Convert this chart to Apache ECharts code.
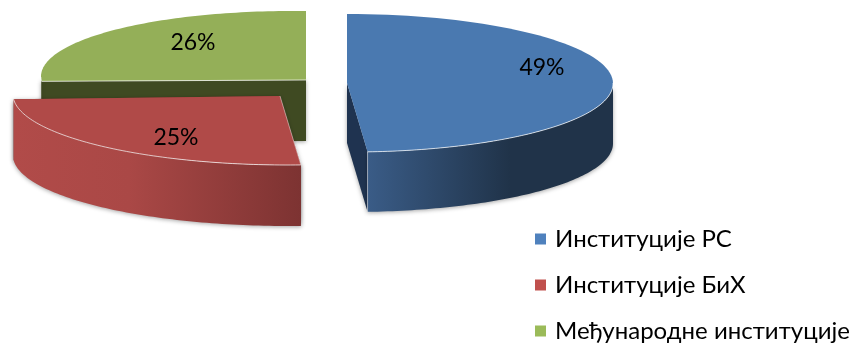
<!DOCTYPE html>
<html><head><meta charset="utf-8">
<style>html,body{margin:0;padding:0;background:#fff}#c{width:860px;height:343px}</style>
<script src="https://cdn.jsdelivr.net/npm/echarts@6/dist/echarts.min.js"></script>
</head><body><div id="c"></div>
<script>
const categories = ['Институције РС', 'Институције БиХ', 'Међународне институције'];
const values = [49, 25, 26];
const labels = ['49%', '25%', '26%'];

// Drawing geometry of each exploded wedge (pixels)
const geometry = [
  {cx:347, cy:83, rx:264, ry:69, tilt:0, depth:60, lx:542, ly:68,  top:'#4a79b0', wall:['#3a5c87','#223650','#203349','#203349'], inner:'#1f3350'},
  {cx:280, cy:96, rx:269, ry:69, tilt:1, depth:61, lx:176, ly:138, top:'#b04a48', wall:['#b14b49','#aa4846','#7d3332','#7d3332'], inner:'#7d3332'},
  {cx:306, cy:80, rx:267, ry:69, tilt:3, depth:61, lx:193, ly:43,  top:'#94af58', wall:['#3f4a22','#3f4a22','#3f4a22','#3f4a22'], inner:'#3f4a22'}
];
const total = values.reduce((a, b) => a + b, 0);
const starts = values.map((_, i) => values.slice(0, i).reduce((a, b) => a + b, 0) * 360 / total);

function pt(g, deg, dz) {
  const t = deg * Math.PI / 180;
  return [g.cx + g.rx * Math.sin(t) + 2 * (1 - Math.cos(t)), g.cy - g.ry * Math.cos(t) + g.tilt * Math.sin(t) + (dz || 0)];
}
function arc(g, a, b, dz) {
  const out = [], n = 80;
  for (let k = 0; k <= n; k++) out.push(pt(g, a + (b - a) * k / n, dz));
  return out;
}
function wedgeRender(i) {
  return function (params, api) {
    const g = geometry[i], v = api.value(0);
    const a0 = starts[i], a1 = a0 + v * 360 / total;
    const apex = [g.cx, g.cy], d = g.depth;
    const children = [];
    const shadow = {shadowBlur: 4, shadowColor: 'rgba(0,0,0,0.35)', shadowOffsetY: 1};
    const radial = (deg) => {
      const p = pt(g, deg);
      return [apex, p, [p[0], p[1] + d], [apex[0], apex[1] + d]];
    };
    children.push({type: 'polygon', shape: {points: radial(a0)}, style: Object.assign({fill: g.inner}, shadow)});
    children.push({type: 'polygon', shape: {points: radial(a1)}, style: Object.assign({fill: g.inner}, shadow)});
    // outer wall: only the part of the rim on the viewer's side (90° to 270°)
    const w0 = Math.max(a0, 90), w1 = Math.min(a1, 270);
    if (w1 > w0) {
      const top = arc(g, w0, w1), bot = arc(g, w0, w1, d).reverse();
      const grad = (i === 0)
        ? new echarts.graphic.LinearGradient(0, 0, 1, 0, [{offset: 0, color: g.wall[0]}, {offset: 0.58, color: g.wall[2]}, {offset: 1, color: g.wall[3]}])
        : new echarts.graphic.LinearGradient(0, 0, 1, 0, [{offset: 0, color: g.wall[0]}, {offset: 0.4, color: g.wall[1]}, {offset: 1, color: g.wall[3]}]);
      children.push({type: 'polygon', shape: {points: top.concat(bot)}, style: Object.assign({fill: grad}, shadow)});
    }
    children.push({type: 'polygon', shape: {points: [apex].concat(arc(g, a0, a1))}, style: {fill: g.top}});
    // light rim between the top face and the walls
    const rim = {stroke: 'rgba(255,255,255,0.7)', lineWidth: 1, fill: null};
    if (w1 > w0) children.push({type: 'polyline', shape: {points: arc(g, w0, w1)}, style: rim});
    if (i === 0) {
      const e = pt(g, a1);
      children.push({type: 'polyline', shape: {points: [e, [e[0], e[1] + d]]}, style: {stroke: 'rgba(255,255,255,0.45)', lineWidth: 1, fill: null}});
    }
    if (i === 1) {
      const e = pt(g, a0);
      children.push({type: 'polyline', shape: {points: [apex, e]}, style: {stroke: 'rgba(255,255,255,0.45)', lineWidth: 1, fill: null}});
    }
    if (i === 2) children.push({type: 'polyline', shape: {points: [pt(g, a0), apex]}, style: rim});
    children.push({type: 'text', x: g.lx, y: g.ly, style: {text: labels[i], fill: '#000', font: '23px Lato, "Open Sans", sans-serif', align: 'center', verticalAlign: 'middle'}});
    return {type: 'group', children};
  };
}
const order = [2, 1, 0];
const chart = echarts.init(document.getElementById('c'), null, {renderer: 'canvas'});
chart.setOption({
  animation: false,
  backgroundColor: '#fff',
  legend: {
    orient: 'vertical', left: 530, top: 222, width: 330, height: 121, itemWidth: 11, itemHeight: 11, itemGap: 22,
    icon: 'rect', selectedMode: false,
    data: categories,
    textStyle: {fontFamily: 'Lato, "Open Sans", sans-serif', fontSize: 24, color: '#000', height: 23, lineHeight: 23, padding: [0, 0, 0, 4]}
  },
  series: categories.map((name, i) => ({
    type: 'custom', name, coordinateSystem: 'none', z: 10 + order.indexOf(i),
    itemStyle: {color: ['#4f81bd', '#c0504d', '#9bbb59'][i]},
    renderItem: wedgeRender(i),
    encode: {value: 0},
    data: [[values[i]]]
  }))
});
</script></body></html>
